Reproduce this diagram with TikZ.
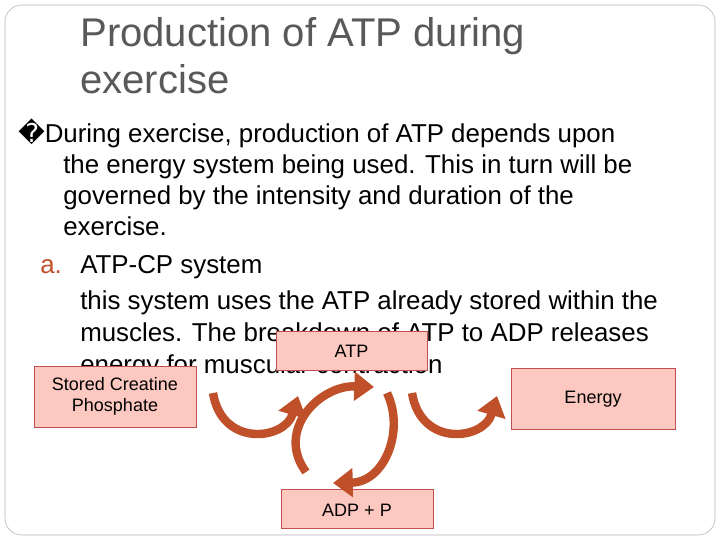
\documentclass[tikz,border=0pt]{standalone}
\usepackage{fontspec}
\setmainfont{Liberation Sans}
\newfontfamily\symfont{DejaVu Sans}
\usetikzlibrary{arrows.meta}
\definecolor{boxfill}{HTML}{FCC8C0}
\definecolor{boxline}{HTML}{C0504D}
\definecolor{rust}{HTML}{C0502A}
\definecolor{titlegray}{HTML}{595959}
\begin{document}
\begin{tikzpicture}[x=0.025cm,y=-0.025cm,
  line/.style={anchor=base west,inner sep=0pt,font=\fontsize{18.4}{20}\selectfont},
  headline/.style={anchor=base west,inner sep=0pt,text=titlegray,font=\fontsize{28.5}{30}\selectfont},
  boxtext/.style={inner sep=0pt,align=center,font=\fontsize{12.8}{15}\selectfont},
  flow/.style={draw=rust,line width=6pt,-{Triangle[length=14pt,width=20pt]}}]
  \useasboundingbox (0,0) rectangle (720,540);
  \draw[gray!60,rounded corners=12pt] (5,5) rectangle (715,535);
  % title
  \node[headline] (t1) at (80,46) {Production of ATP during};
  \node[headline] (t2) at (80,93) {exercise};
  % body
  \node[line] (b0) at (18,142) {{\symfont\char"FFFD}During exercise, production of  ATP depends upon};
  \node[line] (b1) at (63,173) {the energy system being used. This in turn will be};
  \node[line] (b2) at (63,204) {governed by the intensity and duration of the};
  \node[line] (b3) at (63,235) {exercise.};
  \node[line,text=rust] (a) at (40,273) {a.};
  \node[line] (b4) at (80,273) {ATP-CP system};
  \node[line] (b5) at (80,309) {this system uses the ATP already stored within the};
  \node[line] (b6) at (80,341) {muscles. The breakdown of ATP to ADP releases};
  \node[line] (b7) at (80,373) {energy for muscular contraction};
  % boxes
  \path[draw=boxline,fill=boxfill] (276,331) rectangle (427,370);
  \node[boxtext] (atp) at (351.5,351) {ATP};
  \path[draw=boxline,fill=boxfill] (34,366) rectangle (196,427);
  \node[boxtext] (creatine) at (115,396) {Stored Creatine\\Phosphate};
  \path[draw=boxline,fill=boxfill] (511,368) rectangle (675,429);
  \node[boxtext] (energy) at (593,399) {Energy};
  \path[draw=boxline,fill=boxfill] (281,489) rectangle (433,528);
  \node[boxtext] (adp) at (357,510) {ADP + P};
  % arrows
  \coordinate (l1) at (213,393);
  \coordinate (l2) at (298,396);
  \coordinate (r1) at (412,393);
  \coordinate (r2) at (497,396);
  \draw[flow] (l1) .. controls (222,448) and (285,440) .. (l2);
  \draw[flow] (r1) .. controls (421,448) and (484,440) .. (r2);
  \draw[flow] (306,472) .. controls (275,430) and (320,385) .. (374,387);
  \draw[flow] (387,393) .. controls (405,430) and (385,482) .. (333,483);
\end{tikzpicture}
\end{document}
